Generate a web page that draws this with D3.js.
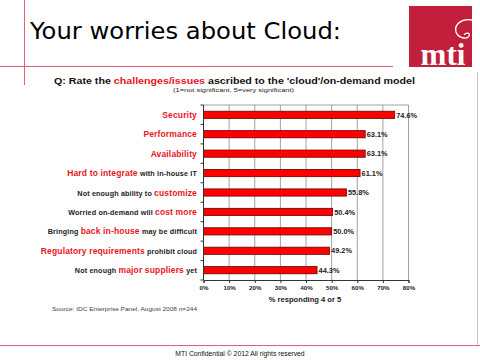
<!DOCTYPE html>
<html><head><meta charset="utf-8">
<script src="https://cdn.jsdelivr.net/npm/d3@7"></script>
<style>html,body{margin:0;padding:0;background:#fff}svg{display:block}</style>
</head><body>
<script>
const categories = [
  "[Security]",
  "[Performance]",
  "[Availability]",
  "[Hard to integrate] with in-house IT",
  "Not enough ability to [customize]",
  "Worried on-demand will [cost more]",
  "Bringing [back in-house] may be difficult",
  "[Regulatory requirements] prohibit cloud",
  "Not enough [major suppliers] yet"
];
const values = [74.6, 63.1, 63.1, 61.1, 55.8, 50.4, 50.0, 49.2, 44.3];
const valueLabels = ["74.6%", "63.1%", "63.1%", "61.1%", "55.8%", "50.4%", "50.0%", "49.2%", "44.3%"];
const xTicks = [0, 10, 20, 30, 40, 50, 60, 70, 80];
const tickLabels = ["0%", "10%", "20%", "30%", "40%", "50%", "60%", "70%", "80%"];

const W = 480, H = 360;
const pink = "#e0607c", red = "#ff0000";
const font = "'Liberation Sans', Arial, sans-serif";

const svg = d3.select("body").append("svg").attr("width", W).attr("height", H)
  .style("font-family", font);

// slide decoration
svg.append("line").attr("x1", 24.5).attr("x2", 24.5).attr("y1", 0).attr("y2", 85).attr("stroke", pink).attr("stroke-width", 1);
svg.append("line").attr("x1", 0).attr("x2", 393).attr("y1", 66.5).attr("y2", 66.5).attr("stroke", pink).attr("stroke-width", 1);
svg.append("line").attr("x1", 0).attr("x2", W).attr("y1", 345.5).attr("y2", 345.5).attr("stroke", pink).attr("stroke-width", 1);
svg.append("line").attr("x1", 477.5).attr("x2", 477.5).attr("y1", 72).attr("y2", 345).attr("stroke", "#c4c4c4").attr("stroke-width", 1);

svg.append("text").attr("x", 30).attr("y", 39).attr("font-size", 22.5).attr("fill", "#000")
  .attr("font-family", "'DejaVu Sans', Verdana, sans-serif")
  .attr("textLength", 311).attr("lengthAdjust", "spacingAndGlyphs")
  .text("Your worries about Cloud:");

// logo
const logo = svg.append("g");
logo.append("rect").attr("x", 409).attr("y", 6).attr("width", 63).attr("height", 61).attr("fill", "#c11f3b");
logo.append("path").attr("d", "M472,20 C461,18 454,25 456,32 C458,38 467,40 469,36 C471,33 466,32 464,35")
  .attr("fill", "none").attr("stroke", "#fff").attr("stroke-width", 1.3);
logo.append("text").attr("x", 443).attr("y", 65).attr("text-anchor", "middle")
  .attr("font-family", "'Liberation Serif','DejaVu Serif',serif").attr("font-weight", "bold")
  .attr("font-size", 31).attr("fill", "#fff").text("mti");

// question
const q = svg.append("text").attr("x", 54).attr("y", 84)
  .attr("font-size", 9.4).attr("font-weight", "bold").attr("fill", "#111")
  .attr("textLength", 361).attr("lengthAdjust", "spacingAndGlyphs");
q.append("tspan").text("Q: Rate the ");
q.append("tspan").attr("fill", "#e8141e").text("challenges/issues");
q.append("tspan").text(" ascribed to the 'cloud'/on-demand model");
svg.append("text").attr("x", 173).attr("y", 92).attr("font-size", 6)
  .attr("textLength", 121).attr("lengthAdjust", "spacingAndGlyphs")
  .attr("fill", "#222").text("(1=not significant, 5=very significant)");

// chart
const m = {l: 203.5, r: 408.5, t: 105, b: 280};
const x = d3.scaleLinear().domain([0, 80]).range([m.l, m.r]);
const y = d3.scaleBand().domain(d3.range(categories.length)).range([m.t, m.b]).paddingInner(0.63).paddingOuter(0.32);

const g = svg.append("g");
g.selectAll("line.grid").data(xTicks).join("line")
  .attr("x1", d => x(d)).attr("x2", d => x(d)).attr("y1", m.t).attr("y2", m.b)
  .attr("stroke", "#8a8a8a").attr("stroke-width", 0.8);
g.append("line").attr("x1", m.l).attr("x2", m.r).attr("y1", m.t).attr("y2", m.t).attr("stroke", "#8a8a8a").attr("stroke-width", 0.8);

g.selectAll("rect.bar").data(values).join("rect")
  .attr("x", x(0)).attr("y", (d, i) => y(i)).attr("width", d => x(d) - x(0)).attr("height", y.bandwidth())
  .attr("fill", red).attr("stroke", "#600").attr("stroke-width", 0.8);

g.selectAll("text.val").data(values).join("text")
  .attr("x", d => x(d) + 1.5).attr("y", (d, i) => y(i) + y.bandwidth() / 2 + 2.7)
  .attr("font-size", 7.4).attr("font-weight", "bold").attr("fill", "#222")
  .text((d, i) => valueLabels[i]);

const xAxis = d3.axisBottom(x).tickValues(xTicks).tickFormat((d, i) => tickLabels[i]).tickSize(3).tickPadding(3);
const ax = svg.append("g").attr("transform", `translate(0,${m.b})`).call(xAxis);
ax.select(".domain").attr("stroke", "#333");
ax.selectAll(".tick line").attr("stroke", "#333");
ax.selectAll("text").attr("font-size", 6.2).attr("font-weight", "bold").attr("font-family", font).attr("fill", "#222");

const yl = svg.append("g");
yl.append("line").attr("x1", m.l).attr("x2", m.l).attr("y1", m.t).attr("y2", m.b).attr("stroke", "#333");
yl.selectAll("line.t").data(d3.range(categories.length + 1)).join("line")
  .attr("x1", m.l - 3).attr("x2", m.l).attr("y1", i => m.t + i * (m.b - m.t) / categories.length)
  .attr("y2", i => m.t + i * (m.b - m.t) / categories.length).attr("stroke", "#333");

categories.forEach((c, i) => {
  const t = svg.append("text").attr("x", 197).attr("y", y(i) + y.bandwidth() / 2 + 3)
    .attr("text-anchor", "end").attr("font-weight", "bold").style("letter-spacing", "0.15px");
  c.split(/(\[[^\]]+\])/).filter(s => s.length).forEach(s => {
    if (s.startsWith("[")) t.append("tspan").attr("fill", "#e8141e").attr("font-size", 8.5).text(s.slice(1, -1));
    else t.append("tspan").attr("fill", "#222").attr("font-size", 7.2).text(s);
  });
});

svg.append("text").attr("x", 305).attr("y", 302).attr("text-anchor", "middle")
  .attr("font-size", 7.6).attr("font-weight", "bold").attr("fill", "#222").text("% responding 4 or 5");

svg.append("text").attr("x", 52).attr("y", 311).attr("font-size", 6)
  .attr("textLength", 145).attr("lengthAdjust", "spacingAndGlyphs").attr("fill", "#444")
  .text("Source: IDC Enterprise Panel, August 2008  n=244");

svg.append("text").attr("x", 240).attr("y", 356).attr("text-anchor", "middle").attr("font-size", 6.8)
  .attr("fill", "#111").text("MTI Confidential  © 2012 All rights reserved");
</script>
</body></html>
